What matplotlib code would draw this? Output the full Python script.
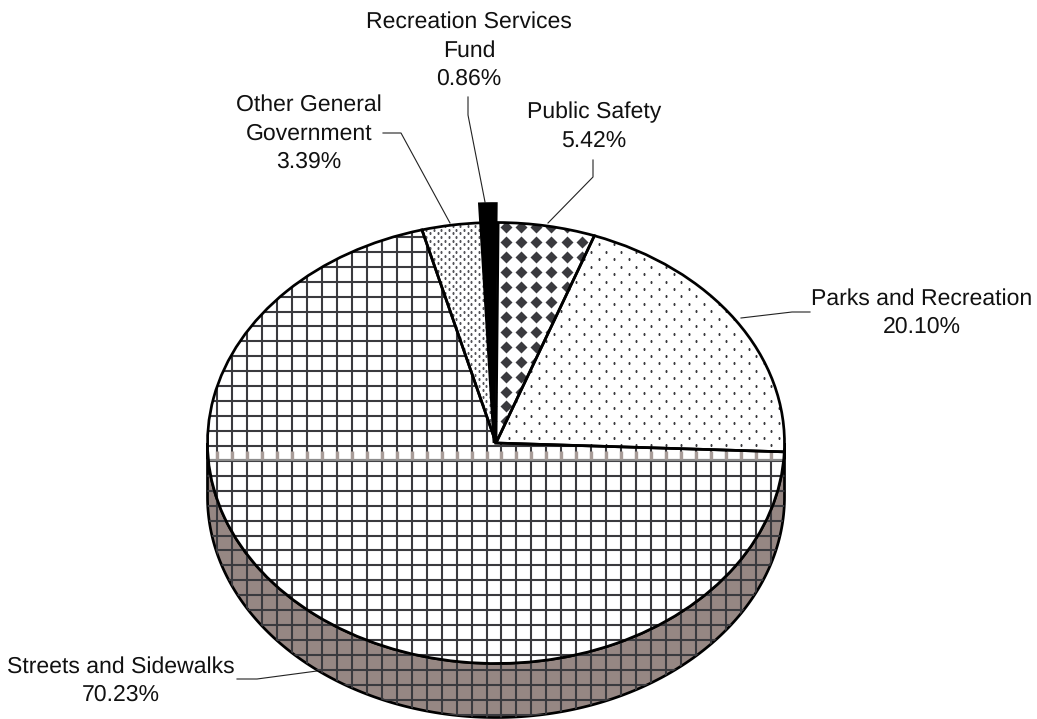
import numpy as np
import matplotlib
matplotlib.use("Agg")
import matplotlib.pyplot as plt
from matplotlib.patches import Polygon

plt.rcParams["font.family"] = ["Liberation Sans", "DejaVu Sans"]
plt.rcParams["text.hinting"] = "no_hinting"
plt.rcParams["text.hinting_factor"] = 1

# slices run counterclockwise from the Parks/Streets boundary
names = ["Parks and Recreation", "Public Safety", "Recreation Services\nFund",
         "Other General\nGovernment", "Streets and Sidewalks"]
shares = [20.10, 5.42, 0.86, 3.39, 70.23]

# label anchor: centre x, baseline of the last line (pixels)
label_x = [922, 594, 469, 309, 121]
label_y = [333, 147, 85, 168, 701]

# leader lines (pixels)
leader_parks = [(741, 318), (792, 312), (810, 312)]
leader_safety = [(593, 160), (593, 177), (548, 223)]
leader_fund = [(468, 97), (468, 115), (485, 202)]
leader_other = [(383, 133), (401, 133), (450, 223)]
leader_streets = [(237, 679), (257, 679), (317, 671)]
leaders = [leader_parks, leader_safety, leader_fund, leader_other, leader_streets]

W, H = 1037, 719
CX, CY, RX, RY = 496, 443, 288.5, 220.5
DEPTH = 54
INK = "#3a3a3e"
TAUPE = "#968783"

fig = plt.figure(figsize=(W / 100, H / 100), dpi=100)
canvas = fig.add_axes([0, 0, 1, 1])
canvas.set_xlim(0, W)
canvas.set_ylim(H, 0)
canvas.axis("off")

# pie axes covers the ellipse box, so the unit pie gets squashed into it
pie_ax = fig.add_axes([(CX - RX) / W, 1 - (CY + RY) / H, 2 * RX / W, 2 * RY / H])
pie_ax.patch.set_visible(False)
start = -2.3
fills, _ = pie_ax.pie(shares, startangle=start, colors=["white"] * 5,
                      wedgeprops={"linewidth": 0})
rims, _ = pie_ax.pie(shares, startangle=start, colors=["white"] * 5,
                     wedgeprops={"fill": False, "edgecolor": "black",
                                 "linewidth": 1.95, "zorder": 5})
parks, safety, fund, other, streets = fills


def pixel_points(x0, y0, dx, dy, stagger=False):
    xs = np.arange(x0 % dx - dx, W + dx, dx)
    ys = np.arange(y0 % dy - dy, H + dy, dy)
    gx, gy = np.meshgrid(xs, ys)
    if stagger:
        row = np.round((ys - y0) / dy).astype(int)
        gx = gx + (row % 2)[:, None] * dx / 2
    return gx.ravel(), gy.ravel()


def marks(patch, xy, **kw):
    ln, = pie_ax.plot(xy[0], xy[1], ls="none", transform=canvas.transData,
                      zorder=2, **kw)
    ln.set_clip_on(True)
    ln.set_clip_path(patch)


# side wall below the front arc
t = np.radians(np.linspace(180, 360, 200))
front = np.column_stack([CX + RX * np.cos(t), CY - RY * np.sin(t)])
bottom = front[::-1] + [0, DEPTH]
wall = Polygon(np.vstack([front, bottom]), closed=True, facecolor=TAUPE,
               edgecolor="black", linewidth=1.95, zorder=1)
canvas.add_patch(wall)

grid_x = np.arange(426.7 % 14.95, W, 14.95)
grid_y = np.arange(431 % 14.93, H, 14.93)
for ax_, patch, tr in [(canvas, wall, canvas.transData),
                       (pie_ax, streets, canvas.transData)]:
    v = ax_.vlines(grid_x, 0, H, colors=INK, linewidth=1.5, transform=tr, zorder=2)
    h = ax_.hlines(grid_y, 0, W, colors=INK, linewidth=1.5, transform=tr, zorder=2)
    v.set_clip_path(patch)
    h.set_clip_path(patch)

# faint back edge of the wall showing through the top face
back = pie_ax.hlines([460], 0, W, colors="#8c8c8c", linewidth=1.6,
                     transform=canvas.transData, zorder=3)
back.set_clip_path(streets)
ticks = pie_ax.vlines(grid_x, 451, 459, colors="#a89c98", linewidth=2.4,
                      transform=canvas.transData, zorder=3)
ticks.set_clip_path(streets)

# fill patterns of the smaller slices
marks(parks, pixel_points(591, 251.7, 15.0, 7.45, stagger=True),
      marker="s", ms=2.0, mfc=INK, mec="none")
marks(safety, pixel_points(506, 227.3, 15.15, 14.93),
      marker="D", ms=6.3, mfc=INK, mec="none")
marks(other, pixel_points(445, 233.3, 7.5, 3.73, stagger=True),
      marker="s", ms=1.6, mfc="#55555a", mec="none")

# the thin fund slice is black and stands proud of the top face
fund.set_facecolor("black")
fund.set_zorder(6)
fund.set_radius(1.086)
fund.set_center((-0.007, 0))
rims[2].set_radius(1.086)
rims[2].set_center((-0.007, 0))
rims[2].set_zorder(6)

pie_ax.set_aspect("auto")
pie_ax.set_xlim(-1, 1)
pie_ax.set_ylim(-1, 1)

for pts in leaders:
    xs, ys = zip(*pts)
    canvas.plot(xs, ys, color="#222222", linewidth=0.8, zorder=0)

for name, share, x, y in zip(names, shares, label_x, label_y):
    canvas.text(x, y, f"{name}\n{share:.2f}%", ha="center", va="baseline",
                multialignment="center", fontsize=16.4, linespacing=1.42,
                color="#111111")

fig.savefig("out.png", dpi=100)
